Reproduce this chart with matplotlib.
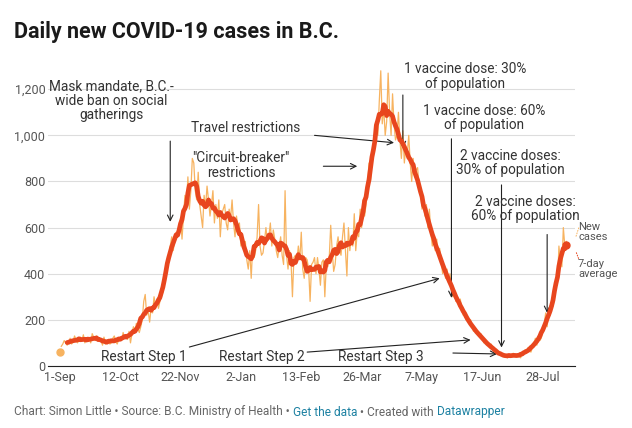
import numpy as np
import pandas as pd
import matplotlib
matplotlib.use('Agg')
import matplotlib.pyplot as plt
import matplotlib.dates as mdates

plt.rcParams['font.family'] = ['Roboto', 'DejaVu Sans']

start = pd.Timestamp('2020-09-01')

# daily new cases, one row per week starting 1-Sep-2020
daily_cases = [
    60, 85, 95, 110, 100, 90, 100,
    120, 95, 105, 130, 115, 100, 110,
    125, 110, 135, 100, 120, 105, 115,
    100, 140, 125, 110, 130, 115, 120,
    110, 90, 125, 95, 100, 115, 95,
    100, 120, 130, 105, 95, 115, 120,
    110, 145, 120, 135, 115, 150, 100,
    140, 170, 150, 185, 160, 145, 170,
    200, 280, 310, 220, 240, 190, 250,
    230, 300, 260, 290, 250, 280, 300,
    320, 380, 420, 440, 470, 520, 560,
    500, 540, 580, 560, 600, 640, 550,
    650, 740, 700, 820, 680, 760, 900,
    880, 760, 720, 840, 700, 650, 600,
    740, 690, 780, 720, 650, 700, 760,
    620, 700, 640, 720, 560, 660, 680,
    700, 620, 590, 680, 640, 720, 620,
    560, 650, 600, 620, 520, 560, 500,
    540, 460, 420, 500, 380, 520, 470,
    500, 560, 700, 520, 480, 490, 540,
    600, 540, 560, 620, 520, 590, 550,
    500, 470, 520, 560, 480, 440, 760,
    480, 420, 500, 460, 300, 470, 480,
    450, 520, 460, 580, 420, 380, 470,
    460, 420, 280, 440, 450, 470, 400,
    470, 420, 350, 450, 460, 300, 440,
    430, 470, 610, 500, 410, 440, 520,
    560, 500, 480, 560, 620, 500, 390,
    600, 500, 560, 520, 660, 500, 580,
    560, 680, 600, 720, 650, 700, 780,
    880, 800, 900, 940, 1000, 1040, 1000,
    1150, 1280, 1050, 1120, 1000, 1060, 1270,
    1100, 1000, 1180, 1050, 980, 1000, 1100,
    980, 900, 1020, 880, 950, 920, 1000,
    880, 800, 900, 820, 850, 860, 780,
    750, 680, 720, 650, 700, 600, 680,
    580, 520, 560, 500, 550, 480, 510,
    460, 400, 430, 380, 420, 360, 400,
    340, 300, 330, 280, 300, 260, 290,
    250, 220, 230, 200, 210, 190, 200,
    170, 150, 160, 140, 150, 130, 140,
    120, 100, 110, 90, 100, 80, 95,
    80, 60, 70, 55, 60, 45, 55,
    40, 50, 45, 35, 45, 40, 50,
    55, 40, 50, 40, 45, 35, 55,
    60, 70, 55, 80, 65, 60, 80,
    100, 120, 90, 130, 110, 120, 150,
    180, 230, 170, 240, 220, 250, 260,
    300, 380, 350, 520, 450, 430, 600,
    520, 540,
]
tick_labels = ['1-Sep', '12-Oct', '22-Nov', '2-Jan', '13-Feb', '26-Mar', '7-May', '17-Jun', '28-Jul']
y_ticks = [0, 200, 400, 600, 800, 1000, 1200]

dates = pd.date_range(start, periods=len(daily_cases), freq='D')
cases = pd.Series(daily_cases, index=dates)
avg = cases.rolling(7, center=True, min_periods=4).mean()
avg = avg[dates[5]:]

def d(n):
    return start + pd.Timedelta(days=n)

fig = plt.figure(figsize=(6.32, 4.28), dpi=100)
ax = fig.add_axes([0.076, 0.145, 0.834, 0.695])

ax.plot(cases.index[1:], cases.values[1:], color='#f7b360', lw=0.9, zorder=2)
ax.plot(dates[0], daily_cases[0], 'o', color='#f7b360', ms=5, zorder=3)
ax.plot(avg.index, avg.values, color='#e8461e', lw=3.4, zorder=4, solid_capstyle='round')
ax.plot(avg.index[-1], avg.values[-1], 'o', color='#e8461e', ms=5, zorder=5)

ax.set_xlim(d(-8), d(350))
ax.set_ylim(0, 1290)
ax.set_yticks(y_ticks)
ax.set_yticklabels(['0'] + [f'{v:,}' for v in y_ticks[1:]])
ax.set_xticks([d(i * 41) for i in range(len(tick_labels))])
ax.set_xticklabels(tick_labels)
ax.tick_params(length=0, labelsize=9, labelcolor='#555555', pad=4)
ax.tick_params(axis='y', pad=2)
ax.grid(axis='y', color='#dddddd', lw=0.8)
ax.set_axisbelow(True)
for s in ['left', 'right', 'top']:
    ax.spines[s].set_visible(False)
ax.spines['bottom'].set_color('#222222')

txt = dict(fontsize=9.8, color='#333333', ha='center', va='center', linespacing=1.05)
arrow = dict(arrowstyle='->', color='#222222', lw=0.8, shrinkA=0, shrinkB=0)

ax.text(d(35), 1150, 'Mask mandate, B.C.-\nwide ban on social\ngatherings', **txt)
ax.annotate('', xy=(d(75), 625), xytext=(d(75), 975), arrowprops=arrow)
ax.text(d(126), 1030, 'Travel restrictions', **txt)
ax.annotate('', xy=(d(227), 968), xytext=(d(173), 1000), arrowprops=arrow)
ax.text(d(123), 870, '"Circuit-breaker"\nrestrictions', **txt)
ax.annotate('', xy=(d(202), 866), xytext=(d(179), 866), arrowprops=arrow)
ax.text(d(275), 1255, '1 vaccine dose: 30%\nof population', **txt)
ax.annotate('', xy=(d(233), 945), xytext=(d(233), 1175), arrowprops=arrow)
ax.text(d(288), 1075, '1 vaccine dose: 60%\nof population', **txt)
ax.annotate('', xy=(d(266), 295), xytext=(d(266), 985), arrowprops=arrow)
ax.text(d(306), 880, '2 vaccine doses:\n30% of population', **txt)
ax.annotate('', xy=(d(300), 80), xytext=(d(300), 785), arrowprops=arrow)
ax.text(d(316), 680, '2 vaccine doses:\n60% of population', **txt)
ax.annotate('', xy=(d(331), 230), xytext=(d(331), 570), arrowprops=arrow)

ax.text(d(57), 38, 'Restart Step 1', **txt)
ax.annotate('', xy=(d(258), 380), xytext=(d(88), 82), arrowprops=arrow)
ax.text(d(137), 38, 'Restart Step 2', **txt)
ax.annotate('', xy=(d(279), 113), xytext=(d(168), 60), arrowprops=arrow)
ax.text(d(218), 38, 'Restart Step 3', **txt)
ax.annotate('', xy=(d(297), 52), xytext=(d(267), 56), arrowprops=arrow)

leg = dict(fontsize=8, color='#555555', ha='left', va='center', linespacing=1.05)
ax.text(d(352), 580, 'New\ncases', **leg)
ax.text(d(352), 420, '7-day\naverage', **leg)
ax.annotate('', xy=(d(350), 550), xytext=(d(353), 610), arrowprops=dict(arrowstyle='-', color='#f7b360', lw=0.7, ls=':'))
ax.annotate('', xy=(d(350), 505), xytext=(d(353), 455), arrowprops=dict(arrowstyle='-', color='#e8461e', lw=0.7, ls=':'))

fig.text(0.022, 0.912, 'Daily new COVID-19 cases in B.C.', fontsize=15.5, fontweight='bold', color='#1a1a1a')

# footer, pieces laid out left to right
parts = [('Chart: Simon Little • Source: B.C. Ministry of Health • ', '#666666'),
         ('Get the data', '#1d81a2'),
         (' • Created with ', '#666666'),
         ('Datawrapper', '#1d81a2')]
fig.canvas.draw()
r = fig.canvas.get_renderer()
x = 14
for s, c in parts:
    t = fig.text(x / 632, 1 - 412 / 428, s, fontsize=8.6, color=c, va='center')
    x += t.get_window_extent(r).width

fig.savefig('out.png', dpi=100)
